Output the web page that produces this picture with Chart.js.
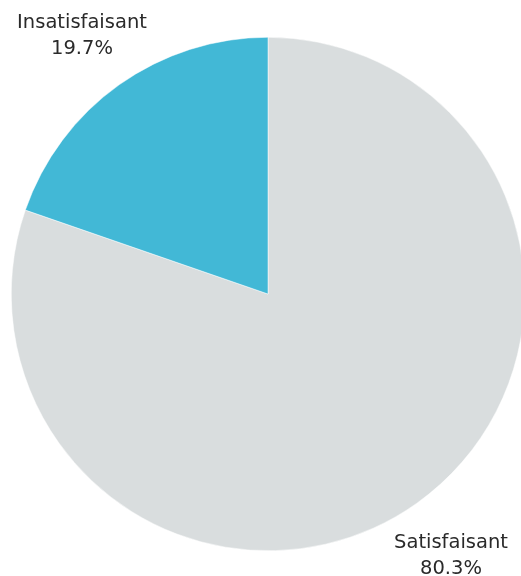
<!DOCTYPE html>
<html>
<head>
<meta charset="utf-8">
<script src="https://cdn.jsdelivr.net/npm/chart.js@4/dist/chart.umd.min.js"></script>
<style>
  html, body { margin: 0; padding: 0; background: #ffffff; overflow: hidden; }
  #wrap { position: relative; width: 540px; height: 576px; }
</style>
</head>
<body>
<div id="wrap"><canvas id="pie" width="540" height="576"></canvas></div>
<script>
// Survey answers: share of respondents per category
const categories = ['Satisfaisant', 'Insatisfaisant'];
const shares = [80.3, 19.7];
const sliceColors = ['#D9DDDE', '#42B8D6'];

// Where each category's caption sits (centre x, first-line baseline y)
const captionPlaces = [
  { x: 451, y: 548 },
  { x: 82, y: 28 }
];

const captionPlugin = {
  id: 'captions',
  afterDraw(chart) {
    const ctx = chart.ctx;
    ctx.save();
    ctx.fillStyle = '#2a2a2a';
    ctx.textAlign = 'center';
    ctx.textBaseline = 'alphabetic';
    ctx.font = '19.5px "DejaVu Sans", sans-serif';
    const labels = chart.data.labels;
    const values = chart.data.datasets[0].data;
    labels.forEach((name, i) => {
      const p = captionPlaces[i];
      ctx.fillText(name, p.x, p.y);
      ctx.fillText(values[i].toFixed(1) + '%', p.x, p.y + 25.5);
    });
    ctx.restore();
  }
};

new Chart(document.getElementById('pie'), {
  type: 'pie',
  data: {
    labels: categories,
    datasets: [{
      data: shares,
      backgroundColor: sliceColors,
      borderColor: '#ffffff',
      borderWidth: 0.5,
      hoverOffset: 0
    }]
  },
  options: {
    responsive: false,
    animation: false,
    events: [],
    layout: { padding: { left: 11, right: 15, top: 37, bottom: 25 } },
    plugins: {
      legend: { display: false },
      tooltip: { enabled: false }
    }
  },
  plugins: [captionPlugin]
});
</script>
</body>
</html>
